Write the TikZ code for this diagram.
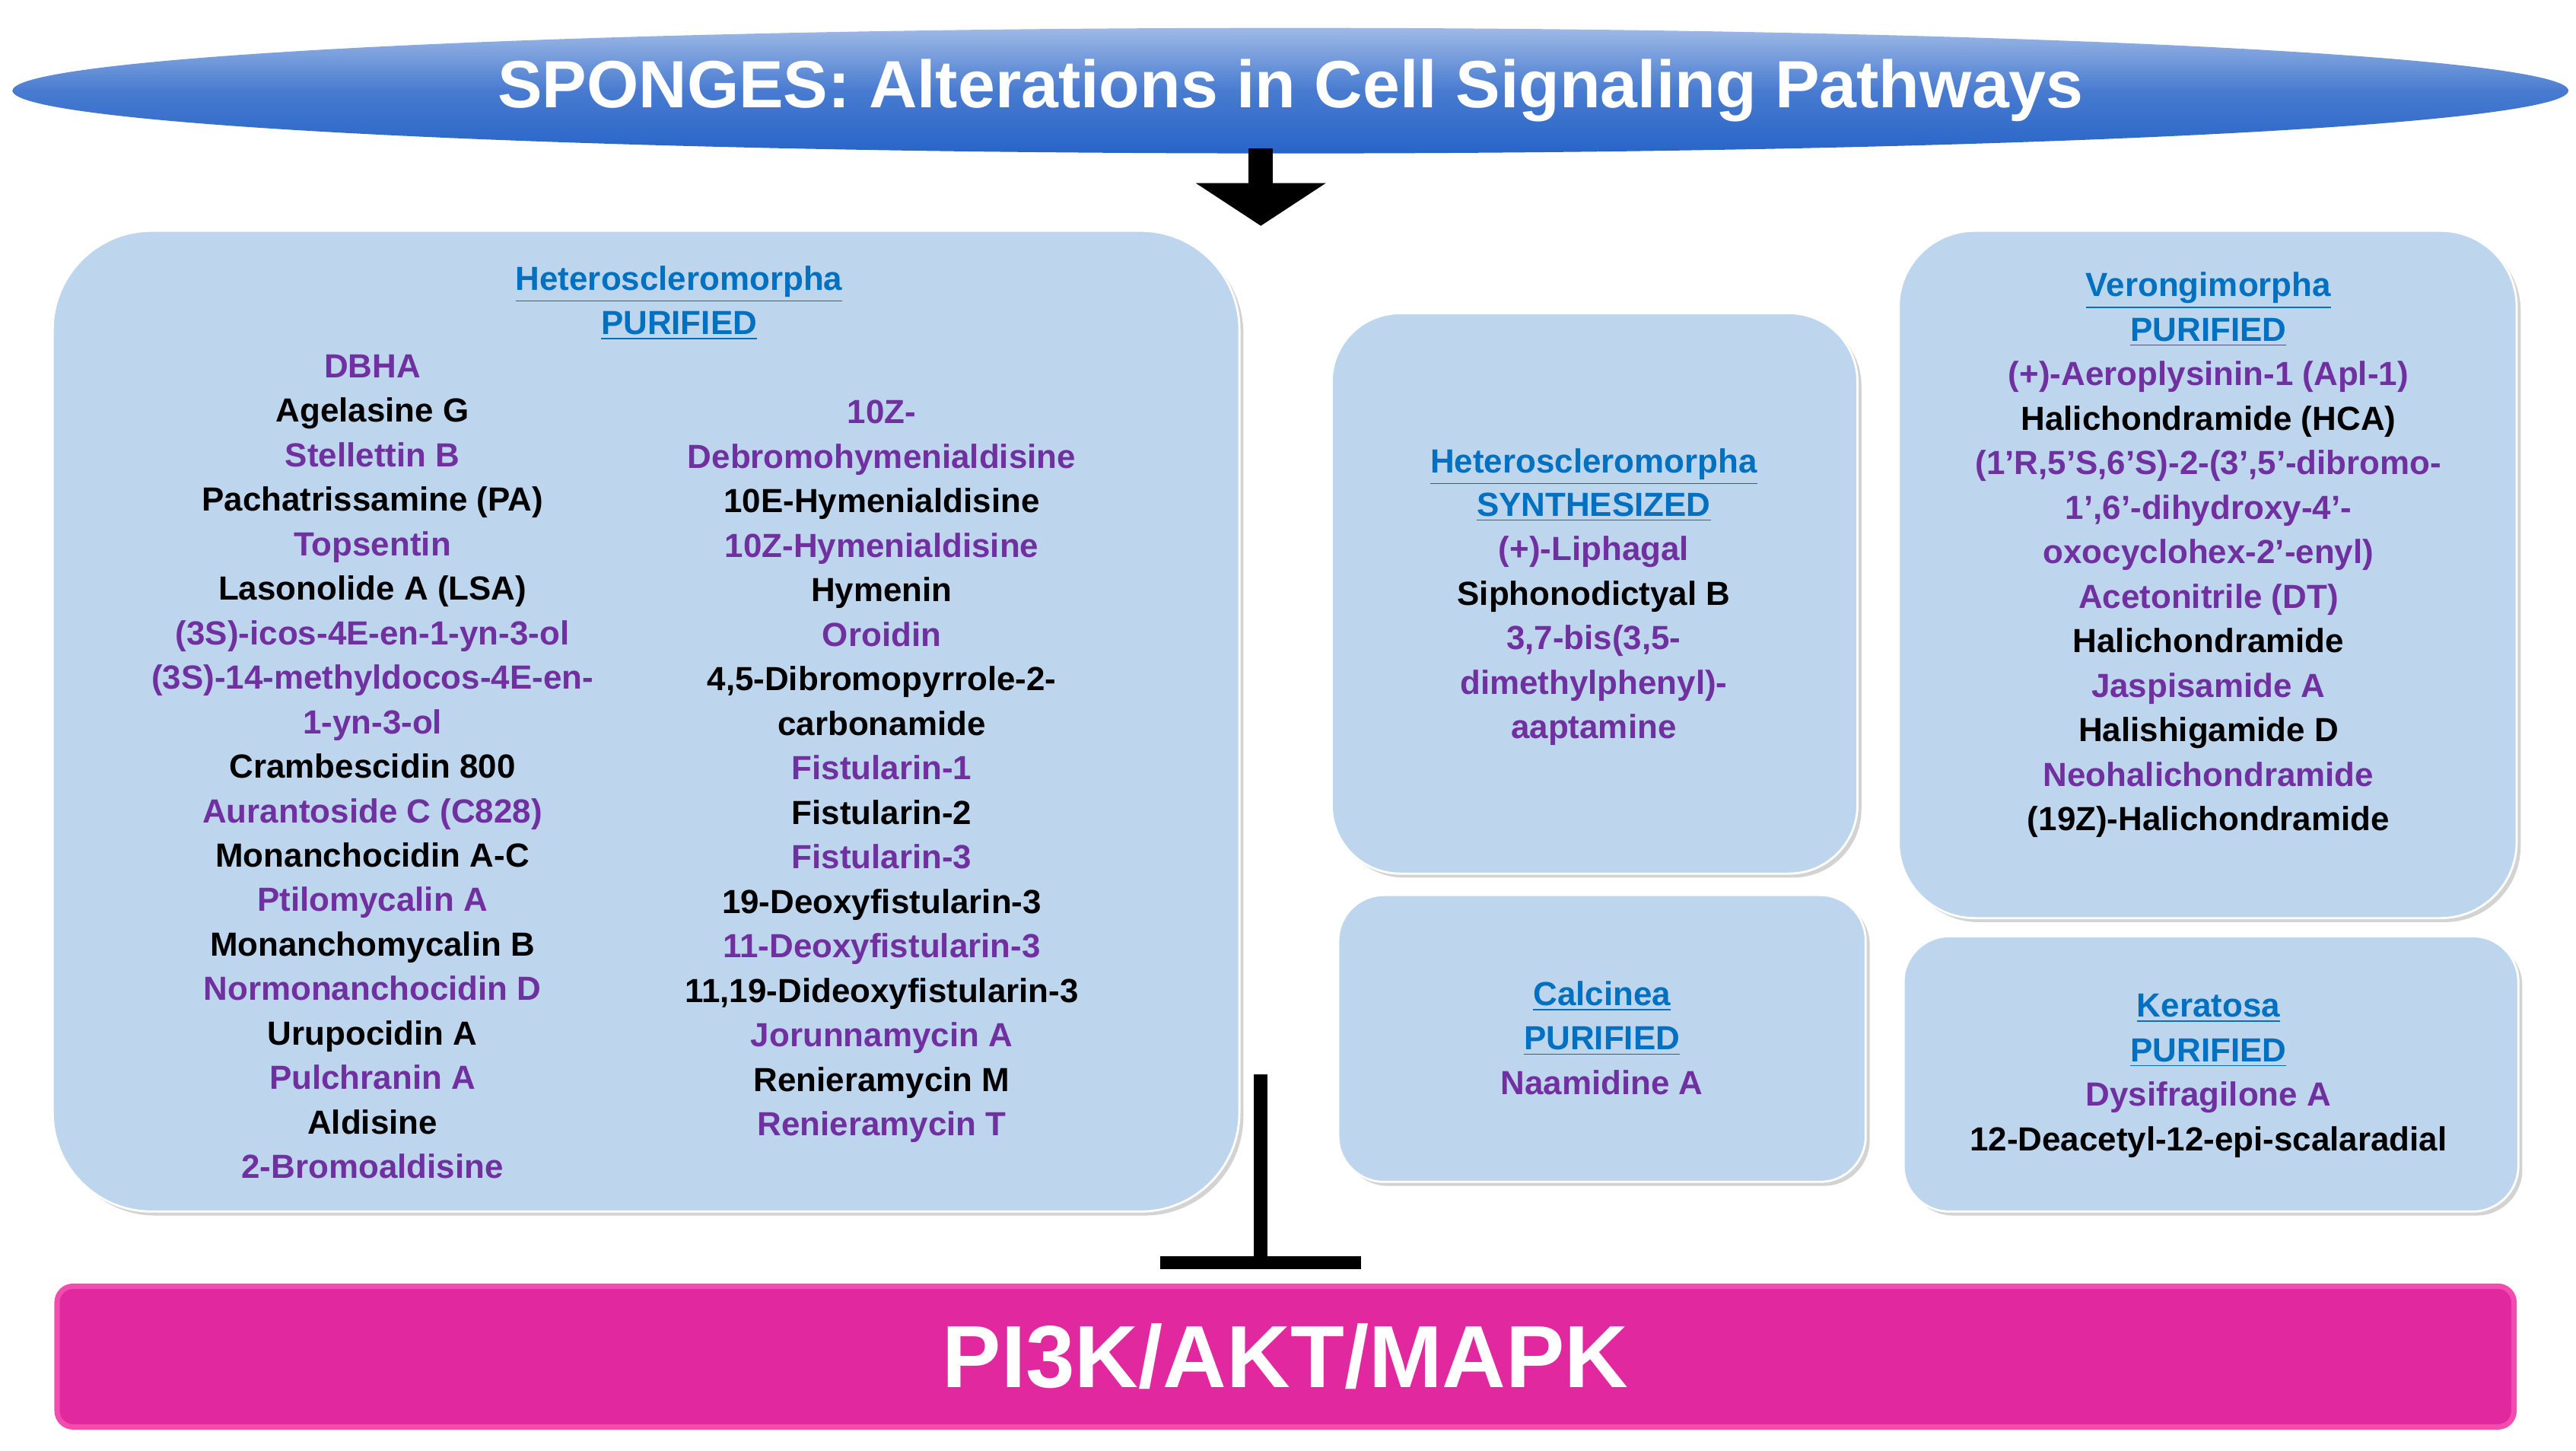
\documentclass[tikz,border=0pt]{standalone}
\usepackage{fontspec}
\setmainfont{Liberation Sans}
\usepackage{tikz}
\usetikzlibrary{shapes, arrows.meta, positioning, shadows}
\definecolor{spblue}{RGB}{190, 214, 237}
\definecolor{sppurple}{RGB}{112, 48, 160}
\definecolor{sphead}{RGB}{0, 112, 192}
\definecolor{spmagenta}{RGB}{226, 40, 158}
\definecolor{sptitle}{RGB}{40, 100, 200}
\tikzset{
    group/.style={
        rectangle,
        draw=white,
        thick,
        fill=spblue,
        drop shadow={opacity=0.35, shadow xshift=1.5pt, shadow yshift=-1.5pt}
    },
    item/.style={font=\fontsize{12.5pt}{16pt}\selectfont\bfseries, inner sep=0pt, anchor=base},
    pu/.style={item, text=sppurple},
    bk/.style={item, text=black},
    hd/.style={item, text=sphead}
}
\newcommand{\hdtext}[1]{\underline{#1}}

\begin{document}
\begin{tikzpicture}[x=0.02166cm, y=-0.02166cm]
    \useasboundingbox (0,0) rectangle (1563,880);

    % Title
    \node[ellipse, inner sep=0pt, top color=sptitle!45, bottom color=sptitle, middle color=sptitle!85, draw=none,
          minimum width=33.6cm, minimum height=1.65cm] (title) at (783,55) {};
    \node[font=\fontsize{25pt}{30pt}\selectfont\bfseries, text=white] at (title) {SPONGES: Alterations in Cell Signaling Pathways};
    \coordinate (arrowend) at (765,137);
    \draw[line width=9pt, -{Triangle[width=48pt, length=16pt]}] (765,90) -- (arrowend);

    % Boxes
    \draw[group, rounded corners=1.3cm] (32,140) rectangle (752,735);
    \draw[group, rounded corners=0.9cm] (808,190) rectangle (1127,530);
    \draw[group, rounded corners=1.0cm] (1152,140) rectangle (1527,557);
    \draw[group, rounded corners=0.6cm] (812,543) rectangle (1132,717);
    \draw[group, rounded corners=0.6cm] (1155,568) rectangle (1528,735);

    % Target
    \node[rectangle, rounded corners=6pt, fill=spmagenta, draw=magenta!70, line width=2pt,
          minimum width=32.3cm, minimum height=1.85cm] (target) at (780,823) {};
    \node[font=\fontsize{33pt}{38pt}\selectfont\bfseries, text=white] at (target) {PI3K/AKT/MAPK};
    \coordinate (barL) at (704,766);
    \coordinate (barR) at (826,766);
    \draw[line width=5pt] (765,652) -- (765,766);
    \draw[line width=5pt] (barL) -- (barR);

    % Heteroscleromorpha purified
    \node[hd] (h1a) at (412,176) {\hdtext{Heteroscleromorpha}};
    \node[hd] (h1b) at (412,203) {\hdtext{PURIFIED}};
    \foreach [count=\i from 0] \t/\c in {{DBHA}/pu, {Agelasine G}/bk, {Stellettin B}/pu,
        {Pachatrissamine (PA)}/bk, {Topsentin}/pu, {Lasonolide A (LSA)}/bk,
        {(3S)-icos-4E-en-1-yn-3-ol}/pu, {(3S)-14-methyldocos-4E-en-}/pu, {1-yn-3-ol}/pu,
        {Crambescidin 800}/bk, {Aurantoside C (C828)}/pu, {Monanchocidin A-C}/bk,
        {Ptilomycalin A}/pu, {Monanchomycalin B}/bk, {Normonanchocidin D}/pu,
        {Urupocidin A}/bk, {Pulchranin A}/pu, {Aldisine}/bk, {2-Bromoaldisine}/pu}
        \node[\c] (ca\i) at (226,229+27*\i) {\t};
    \foreach [count=\i from 0] \t/\c in {{10Z-}/pu, {Debromohymenialdisine}/pu,
        {10E-Hymenialdisine}/bk, {10Z-Hymenialdisine}/pu, {Hymenin}/bk, {Oroidin}/pu,
        {4,5-Dibromopyrrole-2-}/bk, {carbonamide}/bk, {Fistularin-1}/pu, {Fistularin-2}/bk,
        {Fistularin-3}/pu, {19-Deoxyfistularin-3}/bk, {11-Deoxyfistularin-3}/pu,
        {11,19-Dideoxyfistularin-3}/bk, {Jorunnamycin A}/pu, {Renieramycin M}/bk,
        {Renieramycin T}/pu}
        \node[\c] (cb\i) at (535,257+27*\i) {\t};

    % Heteroscleromorpha synthesized
    \node[hd] (h2a) at (967,287) {\hdtext{Heteroscleromorpha}};
    \node[hd] (h2b) at (967,313) {\hdtext{SYNTHESIZED}};
    \foreach [count=\i from 0] \t/\c in {{(+)-Liphagal}/pu, {Siphonodictyal B}/bk,
        {3,7-bis(3,5-}/pu, {dimethylphenyl)-}/pu, {aaptamine}/pu}
        \node[\c] (cc\i) at (967,340+27*\i) {\t};

    % Verongimorpha
    \node[hd] (h3a) at (1340,180) {\hdtext{Verongimorpha}};
    \node[hd] (h3b) at (1340,207) {\hdtext{PURIFIED}};
    \foreach [count=\i from 0] \t/\c in {{(+)-Aeroplysinin-1 (Apl-1)}/pu,
        {Halichondramide (HCA)}/bk, {(1’R,5’S,6’S)-2-(3’,5’-dibromo-}/pu,
        {1’,6’-dihydroxy-4’-}/pu, {oxocyclohex-2’-enyl)}/pu, {Acetonitrile (DT)}/pu,
        {Halichondramide}/bk, {Jaspisamide A}/pu, {Halishigamide D}/bk,
        {Neohalichondramide}/pu, {(19Z)-Halichondramide}/bk}
        \node[\c] (cd\i) at (1340,234+27*\i) {\t};

    % Calcinea
    \node[hd] (h4a) at (972,610) {\hdtext{Calcinea}};
    \node[hd] (h4b) at (972,637) {\hdtext{PURIFIED}};
    \node[pu] (ce0) at (972,664) {Naamidine A};

    % Keratosa
    \node[hd] (h5a) at (1340,617) {\hdtext{Keratosa}};
    \node[hd] (h5b) at (1340,644) {\hdtext{PURIFIED}};
    \node[pu] (cf0) at (1340,671) {Dysifragilone A};
    \node[bk] (cf1) at (1340,698) {12-Deacetyl-12-epi-scalaradial};
\end{tikzpicture}
\end{document}
